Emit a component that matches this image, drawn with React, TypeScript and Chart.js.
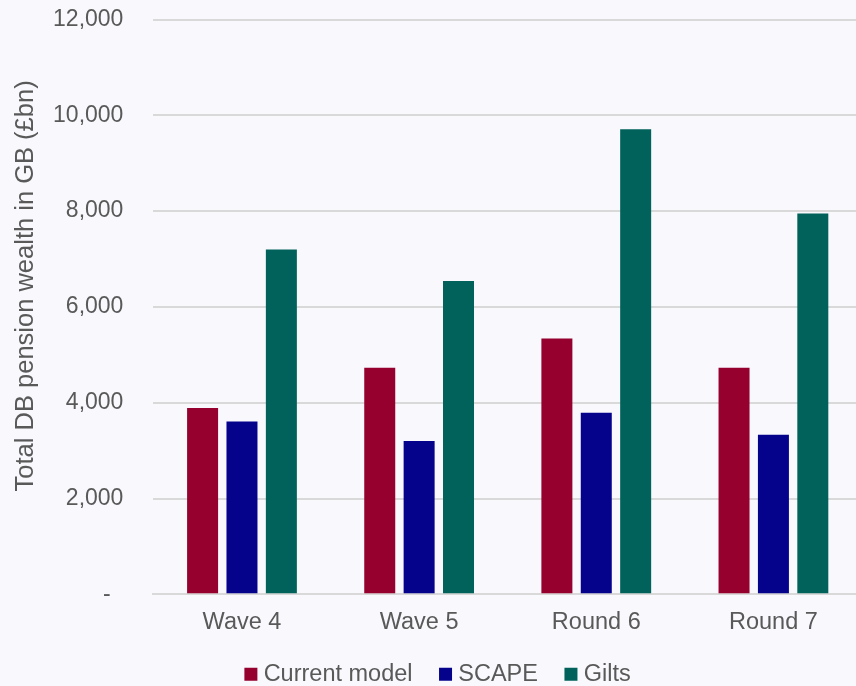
import React, { useEffect, useRef } from 'react';
import { Chart, registerables } from 'chart.js';

Chart.register(...registerables);

const categories = ['Wave 4', 'Wave 5', 'Round 6', 'Round 7'];
const seriesNames = ['Current model', 'SCAPE', 'Gilts'];
const currentModel = [3890, 4730, 5340, 4730];
const scape = [3610, 3200, 3790, 3330];
const gilts = [7200, 6540, 9710, 7950];
const yTickValues = [0, 2000, 4000, 6000, 8000, 10000, 12000];
const yTitle = 'Total DB pension wealth in GB (£bn)';
const seriesColors = ['#95002E', '#05038C', '#00625A'];

const FONT = '"Liberation Sans", Arial, sans-serif';
const TEXT = '#595959';
const GRID = '#D9D9D9';

const yTitlePlugin = {
  id: 'yTitlePlugin',
  afterDraw(chart: any) {
    const { ctx, chartArea } = chart;
    ctx.save();
    ctx.translate(26, (chartArea.top + chartArea.bottom) / 2 - 21);
    ctx.rotate(-Math.PI / 2);
    ctx.font = `25.5px ${FONT}`;
    ctx.fillStyle = TEXT;
    ctx.textAlign = 'center';
    ctx.textBaseline = 'middle';
    ctx.fillText(yTitle, 0, 0);
    ctx.restore();
  },
};

export default function App() {
  const ref = useRef<HTMLCanvasElement | null>(null);

  useEffect(() => {
    if (!ref.current) return;
    const values = [currentModel, scape, gilts];
    const chart = new Chart(ref.current, {
      type: 'bar',
      data: {
        labels: categories,
        datasets: seriesNames.map((name, i) => ({
          label: name,
          data: values[i],
          backgroundColor: seriesColors[i],
          borderWidth: 0,
          categoryPercentage: 0.667,
          barPercentage: 0.787,
        })),
      },
      options: {
        responsive: false,
        animation: false,
        devicePixelRatio: 1,
        layout: { padding: { top: 19.5, left: 18.6, right: 0, bottom: 0 } },
        plugins: {
          tooltip: { enabled: false },
          legend: {
            position: 'bottom',
            maxHeight: 55.5,
            labels: {
              usePointStyle: true,
              pointStyle: 'rect',
              boxWidth: 2,
              boxHeight: 13,
              padding: 32,
              color: TEXT,
              font: { family: FONT, size: 23.5 },
            },
          },
        },
        scales: {
          x: {
            grid: { display: false, drawTicks: false },
            border: { display: true, color: GRID, width: 2 },
            ticks: { color: TEXT, font: { family: FONT, size: 23.5 }, padding: 14 },
            afterFit: (scale: any) => {
              scale.height = 36.2;
            },
          },
          y: {
            min: 0,
            max: 12000,
            afterBuildTicks: (scale: any) => {
              scale.ticks = yTickValues.map((v) => ({ value: v }));
            },
            grid: { color: GRID, lineWidth: 2, drawTicks: false },
            border: { display: false },
            ticks: {
              color: TEXT,
              font: { family: FONT, size: 23 },
              padding: 30,
              callback: (v: any) => (Number(v) === 0 ? '-  ' : Number(v).toLocaleString('en-US')),
            },
            afterFit: (scale: any) => {
              scale.width = 134.8;
              scale.paddingTop = 0;
              scale.paddingBottom = 0;
            },
          },
        },
      },
      plugins: [yTitlePlugin],
    } as any);
    return () => chart.destroy();
  }, []);

  return (
    <div
      style={{
        position: 'fixed',
        left: 0,
        top: 0,
        width: 856,
        height: 686,
        overflow: 'hidden',
        background: '#F8F8FD',
      }}
    >
      <canvas ref={ref} width={862} height={686} style={{ display: 'block' }} />
    </div>
  );
}
